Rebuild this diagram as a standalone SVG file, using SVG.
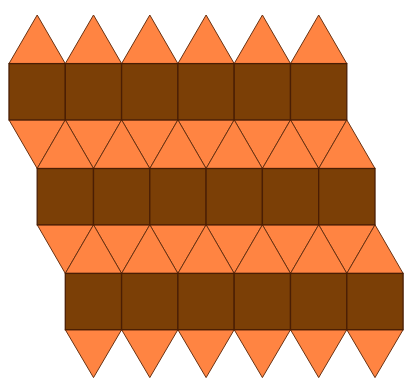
<svg xmlns="http://www.w3.org/2000/svg" width="405" height="378" viewBox="0 0 405 378">
<style>
.t{fill:#ff8442;stroke:#6a3212;stroke-width:1;stroke-linejoin:round}
.s{fill:#7b3f06;stroke:#4a1e04;stroke-width:1.3}
</style>
<rect width="405" height="378" fill="#ffffff"/>
<g id="triangles">
<!-- top -->
<polygon class="t" points="9,63.6 37.2,15 65.3,63.6"/>
<polygon class="t" points="65.3,63.6 93.5,15 121.6,63.6"/>
<polygon class="t" points="121.6,63.6 149.8,15 177.9,63.6"/>
<polygon class="t" points="177.9,63.6 206.1,15 234.2,63.6"/>
<polygon class="t" points="234.2,63.6 262.4,15 290.5,63.6"/>
<polygon class="t" points="290.5,63.6 318.7,15 346.8,63.6"/>
<!-- band 1 down -->
<polygon class="t" points="9,119.9 37.2,168.5 65.3,119.9"/>
<polygon class="t" points="65.3,119.9 93.5,168.5 121.6,119.9"/>
<polygon class="t" points="121.6,119.9 149.8,168.5 177.9,119.9"/>
<polygon class="t" points="177.9,119.9 206.1,168.5 234.2,119.9"/>
<polygon class="t" points="234.2,119.9 262.4,168.5 290.5,119.9"/>
<polygon class="t" points="290.5,119.9 318.7,168.5 346.8,119.9"/>
<!-- band 1 up -->
<polygon class="t" points="37.2,168.5 65.3,119.9 93.5,168.5"/>
<polygon class="t" points="93.5,168.5 121.6,119.9 149.8,168.5"/>
<polygon class="t" points="149.8,168.5 177.9,119.9 206.1,168.5"/>
<polygon class="t" points="206.1,168.5 234.2,119.9 262.4,168.5"/>
<polygon class="t" points="262.4,168.5 290.5,119.9 318.7,168.5"/>
<polygon class="t" points="318.7,168.5 346.8,119.9 375,168.5"/>
<!-- band 2 down -->
<polygon class="t" points="37.2,224.8 65.3,273.4 93.5,224.8"/>
<polygon class="t" points="93.5,224.8 121.6,273.4 149.8,224.8"/>
<polygon class="t" points="149.8,224.8 177.9,273.4 206.1,224.8"/>
<polygon class="t" points="206.1,224.8 234.2,273.4 262.4,224.8"/>
<polygon class="t" points="262.4,224.8 290.5,273.4 318.7,224.8"/>
<polygon class="t" points="318.7,224.8 346.8,273.4 375,224.8"/>
<!-- band 2 up -->
<polygon class="t" points="65.3,273.4 93.5,224.8 121.6,273.4"/>
<polygon class="t" points="121.6,273.4 149.8,224.8 177.9,273.4"/>
<polygon class="t" points="177.9,273.4 206.1,224.8 234.2,273.4"/>
<polygon class="t" points="234.2,273.4 262.4,224.8 290.5,273.4"/>
<polygon class="t" points="290.5,273.4 318.7,224.8 346.8,273.4"/>
<polygon class="t" points="346.8,273.4 375,224.8 403.1,273.4"/>
<!-- bottom -->
<polygon class="t" points="65.3,329.7 93.5,377.6 121.6,329.7"/>
<polygon class="t" points="121.6,329.7 149.8,377.6 177.9,329.7"/>
<polygon class="t" points="177.9,329.7 206.1,377.6 234.2,329.7"/>
<polygon class="t" points="234.2,329.7 262.4,377.6 290.5,329.7"/>
<polygon class="t" points="290.5,329.7 318.7,377.6 346.8,329.7"/>
<polygon class="t" points="346.8,329.7 375,377.6 403.1,329.7"/>
</g>
<g id="squares">
<rect class="s" x="9" y="63.6" width="56.3" height="56.3"/>
<rect class="s" x="65.3" y="63.6" width="56.3" height="56.3"/>
<rect class="s" x="121.6" y="63.6" width="56.3" height="56.3"/>
<rect class="s" x="177.9" y="63.6" width="56.3" height="56.3"/>
<rect class="s" x="234.2" y="63.6" width="56.3" height="56.3"/>
<rect class="s" x="290.5" y="63.6" width="56.3" height="56.3"/>
<rect class="s" x="37.2" y="168.5" width="56.3" height="56.3"/>
<rect class="s" x="93.5" y="168.5" width="56.3" height="56.3"/>
<rect class="s" x="149.8" y="168.5" width="56.3" height="56.3"/>
<rect class="s" x="206.1" y="168.5" width="56.3" height="56.3"/>
<rect class="s" x="262.4" y="168.5" width="56.3" height="56.3"/>
<rect class="s" x="318.7" y="168.5" width="56.3" height="56.3"/>
<rect class="s" x="65.3" y="273.4" width="56.3" height="56.3"/>
<rect class="s" x="121.6" y="273.4" width="56.3" height="56.3"/>
<rect class="s" x="177.9" y="273.4" width="56.3" height="56.3"/>
<rect class="s" x="234.2" y="273.4" width="56.3" height="56.3"/>
<rect class="s" x="290.5" y="273.4" width="56.3" height="56.3"/>
<rect class="s" x="346.8" y="273.4" width="56.3" height="56.3"/>
</g>
</svg>
